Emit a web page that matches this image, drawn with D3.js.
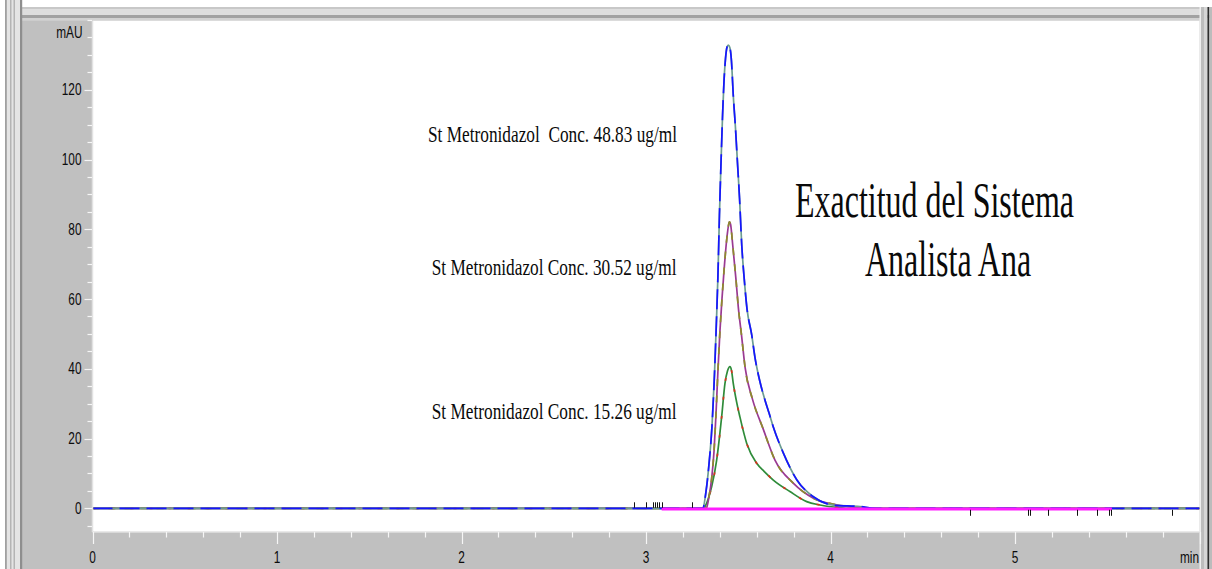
<!DOCTYPE html>
<html>
<head>
<meta charset="utf-8">
<script src="https://cdn.jsdelivr.net/npm/d3@7"></script>
<style>
  html, body { margin: 0; padding: 0; background: #ffffff; }
  svg { display: block; }
  text { white-space: pre; }
</style>
</head>
<body>
<svg id="chart" width="1212" height="569"></svg>
<script>
// Axis ticks and units
const xTicks = [0, 1, 2, 3, 4, 5];
const yTicks = [0, 20, 40, 60, 80, 100, 120];
const xUnit = "min";
const yUnit = "mAU";

// Standard 48.83 ug/ml (retention time in min, absorbance in mAU)
const timeHigh = [0, 3.300, 3.309, 3.325, 3.341, 3.358, 3.371, 3.382, 3.390, 3.398, 3.407, 3.415, 3.423, 3.431, 3.439, 3.446,
  3.454, 3.463, 3.473, 3.485, 3.496, 3.507, 3.519, 3.533, 3.547, 3.573, 3.591, 3.618, 3.645, 3.667, 3.690, 3.744, 3.817,
  3.907, 4.015, 4.160, 4.241, 6.0];
const absHigh = [0, 0, 0.1, 4.7, 12.4, 23.9, 38.2, 54.0, 66.9, 84.0, 99.8, 112.7, 122.7, 129.0, 132.2, 132.8,
  132.2, 128.4, 118.4, 109.0, 98.9, 88.9, 75.4, 65.4, 57.4, 49.7, 43.1, 36.2, 31.0, 27.3, 23.3, 15.9, 8.2,
  3.3, 0.9, 0.5, 0, 0];

// Standard 30.52 ug/ml
const timeMid = [0, 3.320, 3.329, 3.341, 3.356, 3.369, 3.379, 3.390, 3.401, 3.412, 3.423, 3.434, 3.442, 3.452, 3.458,
  3.470, 3.488, 3.500, 3.518, 3.537, 3.577, 3.634, 3.699, 3.798, 3.907, 4.034, 4.161, 4.214, 6.0];
const absMid = [0, 0, 0.3, 3.2, 8.6, 16.6, 26.6, 39.5, 51.0, 60.2, 68.2, 75.2, 79.2, 82.1, 81.5,
  75.5, 65.4, 57.8, 49.5, 40.4, 31.3, 22.9, 13.8, 7.2, 2.9, 1.0, 0.2, 0, 0];

// Standard 15.26 ug/ml
const timeLow = [0, 3.310, 3.320, 3.336, 3.356, 3.383, 3.410, 3.428, 3.442, 3.455, 3.463, 3.473, 3.491, 3.509, 3.546,
  3.600, 3.640, 3.690, 3.780, 3.871, 3.943, 4.051, 4.106, 6.0];
const absLow = [0, 0, 0.5, 2.5, 6.2, 13.8, 26.2, 35.8, 39.4, 40.6, 39.6, 35.8, 30.5, 26.2, 18.6,
  12.9, 10.6, 8.1, 4.8, 1.9, 0.95, 0.2, 0, 0];

// Integration baseline span and event markers (min)
const baselineSpan = [3.085, 5.525];
const eventsAbove = [2.935, 3.0, 3.036, 3.049, 3.061, 3.072, 3.085, 3.251];
const eventsBelow = [4.756, 5.073, 5.079, 5.181, 5.338, 5.443, 5.511, 5.519, 5.849];

// Peak annotations
const peakLabels = [
  "St Metronidazol  Conc. 48.83 ug/ml",
  "St Metronidazol Conc. 30.52 ug/ml",
  "St Metronidazol Conc. 15.26 ug/ml"
];
const titleLines = ["Exactitud del Sistema", "Analista Ana"];

const W = 1212, H = 569;
const plot = { left: 92.5, right: 1199.5, top: 20.7, bottom: 532 };

const svg = d3.select("#chart");

const x = d3.scaleLinear().domain([0, 6]).range([plot.left, plot.right]);
const y = d3.scaleLinear().domain([-6.8, 139.8]).range([plot.bottom, plot.top]);

// ---- window frame ----
svg.append("rect").attr("x", 0).attr("y", 0).attr("width", W).attr("height", H).attr("fill", "#ffffff");
svg.append("rect").attr("x", 5).attr("y", 7).attr("width", W - 5).attr("height", H - 7).attr("fill", "#c0c0c0");
// top bevel
[[7, 2, "#c8c8c8"], [9, 6, "#dedede"], [15, 3, "#a2a2a2"], [18, 2.7, "#d2d2d2"]].forEach(([yy, h, c]) => {
  svg.append("rect").attr("x", 5).attr("y", yy).attr("width", W - 5).attr("height", h).attr("fill", c);
});
// left bevel
svg.append("rect").attr("x", 5).attr("y", 0).attr("width", 17).attr("height", H).attr("fill", "#e4e4e4");
[[5, 1.8, "#a0a0a0"], [10, 1.5, "#b4b4b4"], [13.5, 1.5, "#b4b4b4"], [20, 2.2, "#8e8e8e"]].forEach(([xx, w, c]) => {
  svg.append("rect").attr("x", xx).attr("y", 0).attr("width", w).attr("height", H).attr("fill", c);
});
// right bevel
[[1199.5, 1.5, "#eeeeee"], [1201, 3, "#bdbdbd"], [1204, 3.5, "#d6d6d6"], [1207.5, 1.8, "#2e2e2e"], [1209.3, 2.7, "#bcbcbc"]].forEach(([xx, w, c]) => {
  svg.append("rect").attr("x", xx).attr("y", 7).attr("width", w).attr("height", H - 7).attr("fill", c);
});

// plotting area
svg.append("rect")
  .attr("x", plot.left).attr("y", plot.top)
  .attr("width", plot.right - plot.left).attr("height", plot.bottom - plot.top)
  .attr("fill", "#ffffff");

// ---- axes ----
const tickColor = "#f6f6f6";
const labelColor = "#0c0c0c";
const sansScale = 0.74;

function sansLabel(parent, tx, ty, str, anchor) {
  parent.append("text")
    .attr("transform", `translate(${tx},${ty}) scale(${sansScale},1)`)
    .attr("text-anchor", anchor)
    .attr("font-family", "'Liberation Sans', Arial, sans-serif")
    .attr("font-size", 16)
    .attr("fill", labelColor)
    .text(str);
}

const axes = svg.append("g");
// axis lines
axes.append("line").attr("x1", plot.left).attr("x2", plot.left)
  .attr("y1", plot.top).attr("y2", plot.bottom).attr("stroke", "#e2e2e2").attr("stroke-width", 1.5);
axes.append("line").attr("x1", plot.left).attr("x2", plot.right)
  .attr("y1", plot.bottom).attr("y2", plot.bottom).attr("stroke", "#e2e2e2").attr("stroke-width", 1.5);

// y ticks: minor every 5 mAU, major every 20
const yMinor = d3.range(-5, 141, 5);
yMinor.forEach(v => {
  const major = yTicks.includes(v);
  const yy = Math.round(y(v)) + 0.5;
  axes.append("line")
    .attr("x1", major ? 84.5 : 87.5).attr("x2", plot.left - 0.5)
    .attr("y1", yy).attr("y2", yy)
    .attr("stroke", tickColor).attr("stroke-width", 1.2);
});
yTicks.forEach(v => {
  sansLabel(axes, 81.5, y(v) + 5.6, String(v), "end");
});
sansLabel(axes, 82.5, y(136.4) + 5.6, yUnit, "end");

// x ticks: minor every 0.2 min, major every 1 min
const xMinor = d3.range(0, 31).map(i => i * 0.2);
xMinor.forEach((t, i) => {
  const major = i % 5 === 0;
  const xx = Math.round(x(t)) + 0.5;
  axes.append("line")
    .attr("x1", xx).attr("x2", xx)
    .attr("y1", plot.bottom).attr("y2", major ? 544 : 537.5)
    .attr("stroke", tickColor).attr("stroke-width", 1.2);
});
xTicks.forEach(t => {
  sansLabel(axes, x(t), 563, String(t), "middle");
});
sansLabel(axes, plot.right - 0.5, 563, xUnit, "end");

// ---- chromatograms ----
const clipId = "plot-clip";
svg.append("clipPath").attr("id", clipId).append("rect")
  .attr("x", plot.left + 1).attr("y", plot.top)
  .attr("width", plot.right - plot.left - 1).attr("height", plot.bottom - plot.top - 1);

const traces = svg.append("g").attr("clip-path", `url(#${clipId})`);

const line = d3.line()
  .x(d => x(d[0]))
  .y(d => y(d[1]))
  .curve(d3.curveMonotoneX);

const series = [
  { time: timeLow,  abs: absLow,  color: "#2f8c3a", accent: "#d8321e", dash: "3,16" },
  { time: timeMid,  abs: absMid,  color: "#9a3a92", accent: "#8e8c2c", dash: "7,9" },
  { time: timeHigh, abs: absHigh, color: "#6c9c92", accent: "#1515ff", dash: "20,7" }
];

series.forEach(s => {
  const pts = d3.zip(s.time, s.abs);
  traces.append("path").datum(pts)
    .attr("d", line).attr("fill", "none")
    .attr("stroke", s.color).attr("stroke-width", 1.7)
    .attr("stroke-linejoin", "round");
  traces.append("path").datum(pts)
    .attr("d", line).attr("fill", "none")
    .attr("stroke", s.accent).attr("stroke-width", 1.7)
    .attr("stroke-dasharray", s.dash);
});

// integration baseline
traces.append("line")
  .attr("x1", x(baselineSpan[0])).attr("x2", x(baselineSpan[1]))
  .attr("y1", y(0) + 0.6).attr("y2", y(0) + 0.6)
  .attr("stroke", "#ff1cff").attr("stroke-width", 3);

// event markers
eventsAbove.forEach(t => {
  const xx = Math.round(x(t)) + 0.5;
  traces.append("line").attr("x1", xx).attr("x2", xx)
    .attr("y1", y(0) - 6).attr("y2", y(0) - 0.5)
    .attr("stroke", "#111").attr("stroke-width", 1);
});
eventsBelow.forEach(t => {
  const xx = Math.round(x(t)) + 0.5;
  traces.append("line").attr("x1", xx).attr("x2", xx)
    .attr("y1", y(0) + 1.5).attr("y2", y(0) + 7.5)
    .attr("stroke", "#111").attr("stroke-width", 1);
});

// ---- annotations ----
const serifScale = 0.72;
const notes = svg.append("g")
  .attr("font-family", "'Liberation Serif', 'Times New Roman', serif")
  .attr("fill", "#0a0a0a");

const labelAnchors = [[3.168, 105.0], [3.165, 66.8], [3.165, 25.5]];
peakLabels.forEach((str, i) => {
  const [t, v] = labelAnchors[i];
  notes.append("text")
    .attr("transform", `translate(${x(t)},${y(v)}) scale(${serifScale},1)`)
    .attr("text-anchor", "end")
    .attr("font-size", 24)
    .text(str);
});

const titleScale = 0.64;
const titlePos = [[795, 216.5], [865, 276]];
titleLines.forEach((str, i) => {
  notes.append("text")
    .attr("transform", `translate(${titlePos[i][0]},${titlePos[i][1]}) scale(${titleScale},1)`)
    .attr("font-size", 50)
    .text(str);
});
</script>
</body>
</html>
